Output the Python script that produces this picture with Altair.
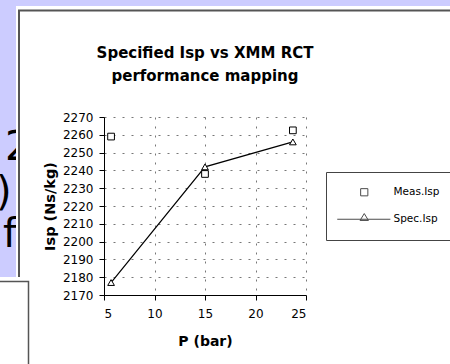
import altair as alt
import pandas as pd

# ---- data ----
pressure = [5.7, 15.0, 23.7]
meas_isp = [2259, 2238, 2262.5]
spec_isp = [2177, 2242, 2256]
series_names = ["Meas.Isp", "Spec.Isp"]
title_lines = ["Specified Isp vs XMM RCT", "performance mapping"]
x_ticks = [5, 10, 15, 20, 25]
y_ticks = [2170, 2180, 2190, 2200, 2210, 2220, 2230, 2240, 2250, 2260, 2270]
fragments = ["2", ")", "f"]

df = pd.DataFrame({
    "P": pressure + pressure,
    "Isp": meas_isp + spec_isp,
    "series": [series_names[0]] * len(pressure) + [series_names[1]] * len(pressure),
})
deco = pd.DataFrame({"k": [0]})

FONT = "DejaVu Sans"

x_enc = alt.X("P:Q", scale=alt.Scale(domain=[5, 25], nice=False, zero=False),
              axis=alt.Axis(values=x_ticks, tickCount=len(x_ticks), title="P (bar)",
                            grid=True, format="d",
                            tickSize=5, labelPadding=8, titlePadding=15,
                            labelFontSize=12, titleFontSize=14, labelOverlap=False,
                            titleFontWeight="bold", labelColor="black",
                            titleColor="black", labelFont=FONT, titleFont=FONT))
y_enc = alt.Y("Isp:Q", scale=alt.Scale(domain=[2170, 2270], nice=False, zero=False),
              axis=alt.Axis(values=y_ticks, tickCount=len(y_ticks), title="Isp (Ns/kg)",
                            grid=True, format="d",
                            tickSize=5, labelPadding=6, titlePadding=5,
                            labelFontSize=12, titleFontSize=14.5, labelOverlap=False,
                            titleFontWeight="bold", labelColor="black",
                            titleColor="black", labelFont=FONT, titleFont=FONT))

# ---- slide decoration around the scanned chart ----
blue = "#ccccff"
top_strip = alt.Chart(deco).mark_rect(fill=blue).encode(
    x=alt.value(-104), x2=alt.value(346), y=alt.value(-117), y2=alt.value(-111))
left_strip = alt.Chart(deco).mark_rect(fill=blue).encode(
    x=alt.value(-104), x2=alt.value(-88), y=alt.value(-117), y2=alt.value(160))
frag2 = alt.Chart(deco).mark_text(text=fragments[0], font=FONT, fontSize=40, align="left",
                                  baseline="alphabetic", color="black").encode(
    x=alt.value(-99), y=alt.value(43))
frag3 = alt.Chart(deco).mark_text(text=fragments[1], font=FONT, fontSize=40, align="left",
                                  baseline="alphabetic", color="black").encode(
    x=alt.value(-108), y=alt.value(88))
frag4 = alt.Chart(deco).mark_text(text=fragments[2], font=FONT, fontSize=40, align="left",
                                  baseline="alphabetic", color="black").encode(
    x=alt.value(-101), y=alt.value(130))
cover = alt.Chart(deco).mark_rect(fill="white").encode(
    x=alt.value(-88), x2=alt.value(-64), y=alt.value(-111), y2=alt.value(160))
frame = alt.Chart(deco).mark_rect(filled=False, stroke="#555555", strokeWidth=2).encode(
    x=alt.value(-85), x2=alt.value(380), y=alt.value(-106.5), y2=alt.value(400))
lower_white = alt.Chart(deco).mark_rect(fill="white").encode(
    x=alt.value(-104), x2=alt.value(-70), y=alt.value(160), y2=alt.value(247))
box = alt.Chart(deco).mark_rect(fill="white", stroke="#555555", strokeWidth=1.5).encode(
    x=alt.value(-110), x2=alt.value(-75.5), y=alt.value(164.5), y2=alt.value(270))

# ---- data layers ----
base = alt.Chart(df)
spec_line = base.transform_filter(alt.datum.series == series_names[1]).mark_line(
    color="black", strokeWidth=1.2).encode(x=x_enc, y=y_enc)
spec_pts = base.transform_filter(alt.datum.series == series_names[1]).mark_point(
    shape="triangle-up", size=45, filled=True, fill="white", stroke="black",
    strokeWidth=1, opacity=1).encode(x="P:Q", y="Isp:Q")
meas_pts = base.transform_filter(alt.datum.series == series_names[0]).mark_point(
    shape="square", size=45, filled=True, fill="white", stroke="black",
    strokeWidth=1, opacity=1).encode(x="P:Q", y="Isp:Q")

# legend symbols: unit = 3 px (symbolSize 36); drawn offset to the right of the entry origin
square_path = "M4.8,-1.2H7.2V1.2H4.8Z"
line_tri_path = "M-3,0H14.7M6,-1.9L7.4,0.4H4.6Z"
legend_layer = base.transform_filter("false").mark_point().encode(
    x="P:Q", y="Isp:Q",
    shape=alt.Shape("series:N",
                    scale=alt.Scale(domain=series_names, range=[square_path, line_tri_path]),
                    legend=alt.Legend(orient="none", legendX=222, legendY=55, title=None,
                                      symbolSize=36, symbolStrokeWidth=1,
                                      symbolStrokeColor="black", symbolFillColor="white",
                                      labelFontSize=10.5, labelFont=FONT, labelColor="black",
                                      labelOffset=42, strokeColor="#444444", fillColor="white",
                                      padding=15, rowPadding=13)))

chart = alt.layer(
    top_strip, left_strip, frag2, frag3, frag4, cover, frame, lower_white, box,
    spec_line, spec_pts, meas_pts, legend_layer
).properties(
    width=202, height=178,
    title=alt.TitleParams(text=title_lines, fontSize=15, fontWeight="bold", font=FONT,
                          color="black", anchor="middle", frame="group",
                          baseline="alphabetic", lineHeight=23, offset=-96),
    padding={"left": 104, "top": 117, "right": 144, "bottom": 69},
    autosize=alt.AutoSizeParams(type="none"),
).configure(background="white").configure_view(stroke=None).configure_axis(
    domainColor="black", tickColor="black", gridColor="#777777", gridDash=[2, 7],
    gridWidth=1, domainWidth=1, tickWidth=1
)

chart.save("out.html", embed_options={"renderer": "svg", "actions": False})
